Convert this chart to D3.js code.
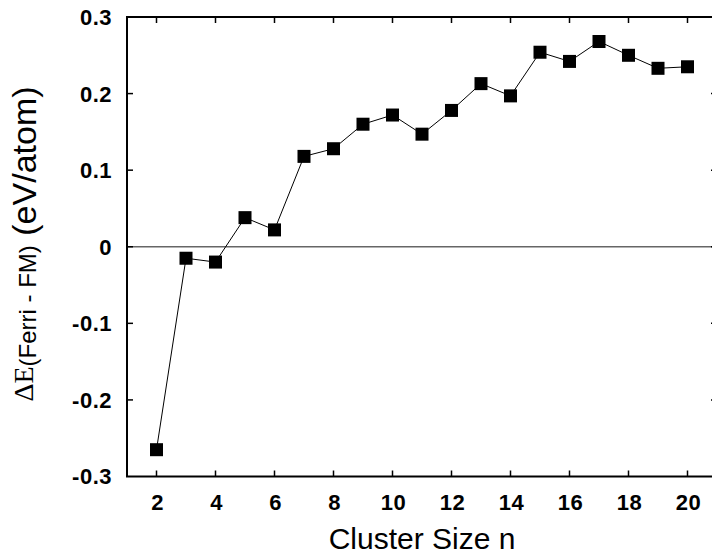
<!DOCTYPE html>
<html>
<head>
<meta charset="utf-8">
<script src="https://cdn.jsdelivr.net/npm/d3@7"></script>
<style>
  body { margin: 0; background: #fff; }
  svg { display: block; }
  .tick-label { font-family: "Liberation Sans", Arial, sans-serif; font-weight: bold; font-size: 22px; letter-spacing: 0.5px; fill: #000; }
  .axis-title { font-family: "Liberation Sans", Arial, sans-serif; font-size: 30px; fill: #000; }
</style>
</head>
<body>
<svg id="chart" width="712" height="554"></svg>
<script>
// cluster size n and energy difference (eV/atom)
const clusterSize = [2, 3, 4, 5, 6, 7, 8, 9, 10, 11, 12, 13, 14, 15, 16, 17, 18, 19, 20];
const deltaE = [-0.265, -0.015, -0.020, 0.038, 0.022, 0.118, 0.128, 0.160, 0.172, 0.147,
                0.178, 0.213, 0.197, 0.254, 0.242, 0.268, 0.250, 0.233, 0.235];
const xTicks = [2, 4, 6, 8, 10, 12, 14, 16, 18, 20];
const yTicks = [-0.3, -0.2, -0.1, 0, 0.1, 0.2, 0.3];
const yTickLabels = ['-0.3', '-0.2', '-0.1', '0', '0.1', '0.2', '0.3'];

const svg = d3.select('#chart');
const plot = { left: 127, right: 717, top: 17, bottom: 476.5 };

const x = d3.scaleLinear().domain([1, 21]).range([plot.left, plot.right]);
const y = d3.scaleLinear().domain([-0.3, 0.3]).range([plot.bottom, plot.top]);

// zero reference line
svg.append('line')
    .attr('x1', plot.left).attr('x2', plot.right)
    .attr('y1', y(0)).attr('y2', y(0))
    .attr('stroke', '#666').attr('stroke-width', 1.5);

// frame
svg.append('rect')
    .attr('x', plot.left).attr('y', plot.top)
    .attr('width', plot.right - plot.left).attr('height', plot.bottom - plot.top)
    .attr('fill', 'none').attr('stroke', '#000').attr('stroke-width', 2);

// inward ticks: bottom & top
const tickLen = 6;
svg.append('g').selectAll('line').data(xTicks).join('line')
    .attr('x1', d => x(d)).attr('x2', d => x(d))
    .attr('y1', plot.bottom).attr('y2', plot.bottom - tickLen)
    .attr('stroke', '#000').attr('stroke-width', 1.5);
svg.append('g').selectAll('line').data(xTicks).join('line')
    .attr('x1', d => x(d)).attr('x2', d => x(d))
    .attr('y1', plot.top).attr('y2', plot.top + tickLen)
    .attr('stroke', '#000').attr('stroke-width', 1.5);

// inward ticks: left & right
svg.append('g').selectAll('line').data(yTicks.slice(1, -1)).join('line')
    .attr('x1', plot.left).attr('x2', plot.left + tickLen)
    .attr('y1', d => y(d)).attr('y2', d => y(d))
    .attr('stroke', '#000').attr('stroke-width', 1.5);
svg.append('g').selectAll('line').data(yTicks.slice(1, -1)).join('line')
    .attr('x1', plot.right).attr('x2', plot.right - tickLen)
    .attr('y1', d => y(d)).attr('y2', d => y(d))
    .attr('stroke', '#000').attr('stroke-width', 1.5);

// tick labels
svg.append('g').selectAll('text').data(xTicks).join('text')
    .attr('class', 'tick-label')
    .attr('x', d => x(d) + 1).attr('y', 510)
    .attr('text-anchor', 'middle')
    .text(d => d);
svg.append('g').selectAll('text').data(yTicks).join('text')
    .attr('class', 'tick-label')
    .attr('x', 112).attr('y', d => y(d))
    .attr('dy', '0.36em')
    .attr('text-anchor', 'end')
    .text((d, i) => yTickLabels[i]);

// data line + square markers
const line = d3.line().x((d, i) => x(clusterSize[i])).y(d => y(d));
svg.append('path')
    .datum(deltaE)
    .attr('d', line)
    .attr('fill', 'none').attr('stroke', '#000').attr('stroke-width', 1);

const m = 13;
svg.append('g').selectAll('rect').data(deltaE).join('rect')
    .attr('x', (d, i) => x(clusterSize[i]) - m / 2)
    .attr('y', d => y(d) - m / 2)
    .attr('width', m).attr('height', m)
    .attr('fill', '#000');

// axis titles
svg.append('text')
    .attr('class', 'axis-title')
    .attr('x', plot.left + (plot.right - plot.left) / 2).attr('y', 549)
    .attr('text-anchor', 'middle')
    .text('Cluster Size n');

const yTitle = svg.append('text')
    .attr('class', 'axis-title')
    .attr('transform', 'translate(35.5,244) rotate(-90)')
    .attr('text-anchor', 'middle');
yTitle.append('tspan')
    .attr('dy', -3)
    .style('font-family', '"Liberation Serif", "Times New Roman", serif')
    .style('font-size', '28px')
    .text('ΔE');
yTitle.append('tspan')
    .attr('dy', 3)
    .style('font-size', '24px')
    .text('(Ferri - FM)');
yTitle.append('tspan')
    .style('font-size', '34px')
    .text('\u00a0(eV/atom)');
</script>
</body>
</html>
